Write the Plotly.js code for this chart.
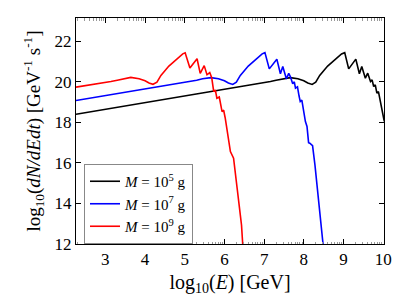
<!DOCTYPE html>
<html>
<head>
<meta charset="utf-8">
<script src="https://cdn.plot.ly/plotly-3.0.1.min.js"></script>
<style>html,body{margin:0;padding:0;background:#fff;}#plot{width:409px;height:301px;}</style>
</head>
<body>
<div id="plot"></div>
<script>
// Black: M = 10^5 g
const blackX = [2.26, 7.12, 7.16, 7.30, 7.45, 7.66, 7.85, 8.00, 8.10, 8.21, 8.30, 8.40, 8.60, 8.80, 8.95, 9.03, 9.13, 9.31, 9.40, 9.46, 9.55, 9.61, 9.68, 9.72, 9.76, 9.80, 9.84, 9.88, 9.93, 9.97, 10.02, 10.06];
const blackY = [18.40, 19.98, 20.02, 20.08, 20.15, 20.21, 20.15, 20.05, 19.94, 19.87, 19.98, 20.32, 20.78, 21.15, 21.38, 21.44, 20.64, 21.12, 20.40, 20.76, 20.18, 20.43, 20.02, 20.10, 19.77, 19.85, 19.44, 19.52, 18.95, 18.62, 18.12, 17.9];

// Blue: M = 10^7 g
const blueX = [2.26, 5.10, 5.14, 5.30, 5.45, 5.66, 5.85, 6.00, 6.10, 6.21, 6.30, 6.40, 6.60, 6.80, 6.95, 7.02, 7.13, 7.32, 7.41, 7.47, 7.56, 7.62, 7.66, 7.72, 7.76, 7.79, 7.84, 7.88, 7.91, 7.95, 8.00, 8.04, 8.08, 8.12, 8.15, 8.22, 8.28, 8.33, 8.38, 8.42, 8.45, 8.48, 8.51];
const blueY = [19.08, 19.98, 20.02, 20.08, 20.15, 20.21, 20.15, 20.05, 19.94, 19.87, 19.98, 20.32, 20.78, 21.15, 21.38, 21.44, 20.64, 21.12, 20.40, 20.76, 20.15, 20.42, 20.26, 19.90, 20.00, 19.69, 19.75, 19.30, 19.03, 19.10, 18.50, 18.04, 17.80, 17.00, 16.97, 16.85, 15.90, 14.91, 14.20, 13.43, 12.90, 12.00, 11.50];

// Red: M = 10^9 g
const redX = [2.26, 3.10, 3.14, 3.30, 3.45, 3.64, 3.85, 4.00, 4.10, 4.20, 4.30, 4.40, 4.60, 4.80, 4.95, 5.01, 5.13, 5.31, 5.39, 5.49, 5.56, 5.63, 5.68, 5.73, 5.77, 5.81, 5.87, 5.94, 5.98, 6.02, 6.07, 6.11, 6.15, 6.23, 6.28, 6.32, 6.38, 6.43, 6.46, 6.49];
const redY = [19.74, 19.98, 20.02, 20.08, 20.15, 20.22, 20.15, 20.05, 19.94, 19.88, 19.98, 20.32, 20.78, 21.15, 21.38, 21.43, 20.68, 21.14, 20.42, 20.80, 20.35, 20.46, 20.20, 19.52, 19.60, 19.19, 19.25, 18.53, 18.60, 18.21, 17.63, 17.10, 16.56, 16.23, 15.50, 14.75, 13.76, 12.94, 12.00, 11.50];

const seriesNames = ['<i>M</i> = 10<sup>5</sup> g', '<i>M</i> = 10<sup>7</sup> g', '<i>M</i> = 10<sup>9</sup> g'];
const seriesColors = ['#000000', '#0000ff', '#ff0000'];

const xTickVals = [3, 4, 5, 6, 7, 8, 9, 10];
const yTickVals = [12, 14, 16, 18, 20, 22];

// log-style minor ticks on the x axis (axis decoration)
const xMinor = [];
for (let n = 2; n <= 9; n++) for (let k = 2; k <= 9; k++) { const v = n + Math.log10(k); if (v > 2.26 && v < 10.02) xMinor.push(v); }

const font = 'Liberation Serif';
const traces = [[blackX, blackY], [blueX, blueY], [redX, redY]].map((d, i) => ({
  x: d[0], y: d[1], type: 'scatter', mode: 'lines', name: seriesNames[i],
  line: {color: seriesColors[i], width: 1.6}, cliponaxis: true
}));

const layout = {
  width: 409, height: 301,
  margin: {l: 76, r: 25, t: 18, b: 57},
  paper_bgcolor: '#fff', plot_bgcolor: '#fff',
  font: {family: font, size: 16, color: '#000'},
  showlegend: true,
  legend: {x: 0.026, y: 0.0, xanchor: 'left', yanchor: 'bottom', bgcolor: '#fff', bordercolor: '#888', borderwidth: 1,
    font: {family: font, size: 15, color: '#000'}, tracegroupgap: 0},
  xaxis: {range: [2.26, 10.02], tickvals: xTickVals, ticktext: xTickVals.map(String), ticks: 'inside', ticklen: 5, tickcolor: '#000',
    showline: true, linecolor: '#000', linewidth: 1, mirror: 'ticks', showgrid: false, zeroline: false,
    minor: {tickmode: 'array', tickvals: xMinor, ticks: 'inside', ticklen: 2.5, tickcolor: '#999', showgrid: false},
    tickfont: {family: font, size: 17, color: '#000'},
    title: {text: 'log<sub>10</sub>(<i>E</i>) [GeV]', font: {family: font, size: 20}, standoff: 6}},
  yaxis: {range: [12, 23.15], tickvals: yTickVals, ticktext: yTickVals.map(String), ticks: 'inside', ticklen: 5, tickcolor: '#000',
    showline: true, linecolor: '#000', linewidth: 1, mirror: 'ticks', showgrid: false, zeroline: false,
    tickfont: {family: font, size: 17, color: '#000'},
    title: {text: 'log<sub>10</sub>(<i>dN/dEdt</i>) [GeV<sup>-1</sup> s<sup>-1</sup>]', font: {family: font, size: 19}, standoff: 8}}
};

Plotly.newPlot('plot', traces, layout, {displayModeBar: false, staticPlot: true});
</script>
</body>
</html>
